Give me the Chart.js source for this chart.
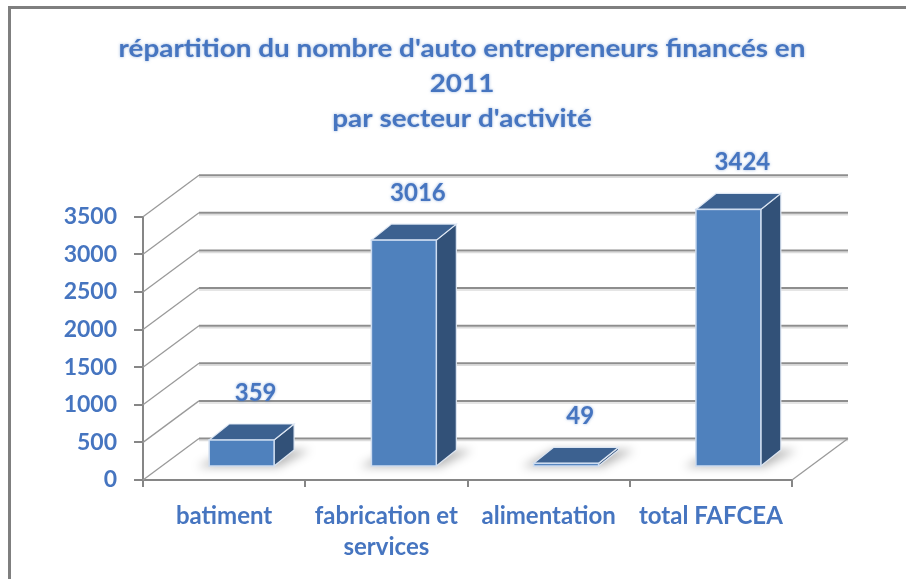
<!DOCTYPE html>
<html>
<head>
<meta charset="utf-8">
<script src="https://cdn.jsdelivr.net/npm/chart.js@4.4.1/dist/chart.umd.min.js"></script>
<style>
  html, body { margin: 0; padding: 0; background: #ffffff; }
  #wrap { position: relative; width: 906px; height: 579px; }
  canvas { display: block; }
</style>
</head>
<body>
<div id="wrap"><canvas id="c" width="906" height="579"></canvas></div>
<script>
// ---- data ----
const categories = [['batiment'], ['fabrication et', 'services'], ['alimentation'], ['total FAFCEA']];
const values = [359, 3016, 49, 3424];
const yTickValues = [0, 500, 1000, 1500, 2000, 2500, 3000, 3500];
const titleLines = ["répartition du nombre d'auto entrepreneurs financés en", "2011", "par secteur d'activité"];

// ---- style ----
const BLUE_TEXT = '#4675c0';
const FONT = 'Lato, "Open Sans", sans-serif';
const AXIS_GREY = '#868686';
const GRID_GREY = '#8e8e8e';
const WALL = { x: 56, y: -41.5 };      // depth of the back wall
const BAR_OFF = { x: 17.5, y: -13 };   // bar front face position in depth
const BAR_DEPTH = { x: 20, y: -16 };   // bar depth

const frame = {
  id: 'frame',
  beforeDraw(chart) {
    const ctx = chart.ctx;
    ctx.save();
    ctx.fillStyle = '#ffffff';
    ctx.fillRect(0, 0, chart.width, chart.height);
    ctx.fillStyle = '#7f7f7f';
    ctx.fillRect(8, 6, chart.width - 8, 3);
    ctx.fillRect(8, 6, 3, chart.height - 6);
    ctx.restore();
  }
};

const walls = {
  id: 'walls',
  beforeDatasetsDraw(chart) {
    const ctx = chart.ctx;
    const ys = chart.scales.y;
    const { left, right, bottom } = chart.chartArea;
    ctx.save();
    yTickValues.forEach(v => {
      const py = ys.getPixelForValue(v);
      ctx.strokeStyle = '#dcdcdc';
      ctx.lineWidth = 1.5;
      ctx.beginPath();
      ctx.moveTo(left + WALL.x, py + WALL.y + 2);
      ctx.lineTo(right + WALL.x, py + WALL.y + 2);
      ctx.stroke();
      ctx.strokeStyle = GRID_GREY;
      ctx.lineWidth = 2;
      ctx.beginPath();
      ctx.moveTo(left + WALL.x, py + WALL.y);
      ctx.lineTo(right + WALL.x, py + WALL.y);
      ctx.stroke();
      ctx.strokeStyle = '#9a9a9a';
      ctx.lineWidth = 1.3;
      ctx.beginPath();
      ctx.moveTo(left, py);
      ctx.lineTo(left + WALL.x, py + WALL.y);
      ctx.stroke();
    });
    ctx.strokeStyle = '#9a9a9a';
    ctx.lineWidth = 1.3;
    ctx.beginPath();
    ctx.moveTo(right, bottom);
    ctx.lineTo(right + WALL.x, bottom + WALL.y);
    ctx.stroke();
    ctx.restore();
  }
};

const bars3d = {
  id: 'bars3d',
  afterDatasetsDraw(chart) {
    const ctx = chart.ctx;
    const meta = chart.getDatasetMeta(0);
    ctx.save();
    meta.data.forEach((bar, i) => {
      const p = bar.getProps(['x', 'y', 'base', 'width'], true);
      const x0 = p.x - p.width / 2 + BAR_OFF.x;
      const x1 = p.x + p.width / 2 + BAR_OFF.x;
      const yt = p.y + BAR_OFF.y;
      const yb = p.base + BAR_OFF.y;
      const dx = BAR_DEPTH.x, dy = BAR_DEPTH.y;
      ctx.save();
      ctx.filter = 'blur(5px)';
      ctx.fillStyle = 'rgba(0,0,0,0.28)';
      ctx.beginPath();
      ctx.moveTo(x0 - 12, yb + 1);
      ctx.lineTo(x1 + 4, yb + 1);
      ctx.lineTo(x1 + dx + 16, yb + dy);
      ctx.lineTo(x0 + dx, yb + dy);
      ctx.closePath();
      ctx.fill();
      ctx.restore();

      ctx.lineWidth = 1.2;
      ctx.strokeStyle = 'rgba(225,234,246,0.95)';
      ctx.fillStyle = '#325178';
      ctx.beginPath();
      ctx.moveTo(x1, yt);
      ctx.lineTo(x1 + dx, yt + dy);
      ctx.lineTo(x1 + dx, yb + dy);
      ctx.lineTo(x1, yb);
      ctx.closePath();
      ctx.fill();
      ctx.stroke();
      ctx.fillStyle = '#3c6190';
      ctx.beginPath();
      ctx.moveTo(x0, yt);
      ctx.lineTo(x1, yt);
      ctx.lineTo(x1 + dx, yt + dy);
      ctx.lineTo(x0 + dx, yt + dy);
      ctx.closePath();
      ctx.fill();
      ctx.stroke();
      ctx.fillStyle = '#4f81bd';
      ctx.fillRect(x0, yt, x1 - x0, yb - yt);
      ctx.lineWidth = 1.5;
      ctx.strokeStyle = 'rgba(205,220,240,1)';
      ctx.strokeRect(x0, yt, x1 - x0, yb - yt);

      ctx.save();
      ctx.font = 'bold 24px ' + FONT;
      ctx.fillStyle = BLUE_TEXT;
      ctx.textAlign = 'center';
      ctx.textBaseline = 'middle';
      ctx.shadowColor = 'rgba(70,117,192,0.55)';
      ctx.shadowBlur = 3;
      ctx.fillText(String(values[i]), p.x + BAR_OFF.x + 14, yt - 47);
      ctx.restore();
    });
    ctx.restore();
  }
};

const titlePlugin = {
  id: 'titleText',
  afterDraw(chart) {
    const ctx = chart.ctx;
    ctx.save();
    ctx.translate(462, 0);
    ctx.scale(1.115, 1);
    ctx.font = 'bold 25px ' + FONT;
    ctx.fillStyle = BLUE_TEXT;
    ctx.textAlign = 'center';
    ctx.textBaseline = 'alphabetic';
    ctx.shadowColor = 'rgba(70,117,192,0.55)';
    ctx.shadowBlur = 3;
    const baselines = [56.7, 92.3, 126.7];
    titleLines.forEach((t, i) => ctx.fillText(t, 0, baselines[i]));
    ctx.restore();
  }
};

new Chart(document.getElementById('c'), {
  type: 'bar',
  data: {
    labels: categories,
    datasets: [{
      data: values,
      backgroundColor: 'rgba(0,0,0,0)',
      borderWidth: 0,
      barPercentage: 0.4,
      categoryPercentage: 1.0
    }]
  },
  options: {
    responsive: false,
    animation: false,
    devicePixelRatio: 1,
    layout: { padding: { top: 216.7, right: 114, left: 0, bottom: 0 } },
    plugins: {
      legend: { display: false },
      title: { display: false },
      tooltip: { enabled: false }
    },
    scales: {
      x: {
        grid: { drawOnChartArea: false, drawTicks: true, tickLength: 7, color: AXIS_GREY, lineWidth: 2, offset: true },
        border: { display: true, color: AXIS_GREY, width: 2 },
        ticks: {
          color: BLUE_TEXT,
          font: { family: FONT, size: 24, weight: 'bold', lineHeight: 1.32 },
          padding: 13,
          maxRotation: 0,
          autoSkip: false
        },
        afterFit(s) { s.height = 99; }
      },
      y: {
        min: 0,
        max: 3500,
        afterBuildTicks(s) { s.ticks = yTickValues.map(v => ({ value: v })); },
        grid: { drawOnChartArea: false, drawTicks: true, tickLength: 9, color: AXIS_GREY, lineWidth: 2 },
        border: { display: true, color: AXIS_GREY, width: 2 },
        ticks: {
          color: BLUE_TEXT,
          font: { family: FONT, size: 23, weight: 'bold' },
          padding: 17,
          callback: v => String(v)
        },
        afterFit(s) { s.width = 143; }
      }
    }
  },
  plugins: [frame, walls, bars3d, titlePlugin]
});
</script>
</body>
</html>
